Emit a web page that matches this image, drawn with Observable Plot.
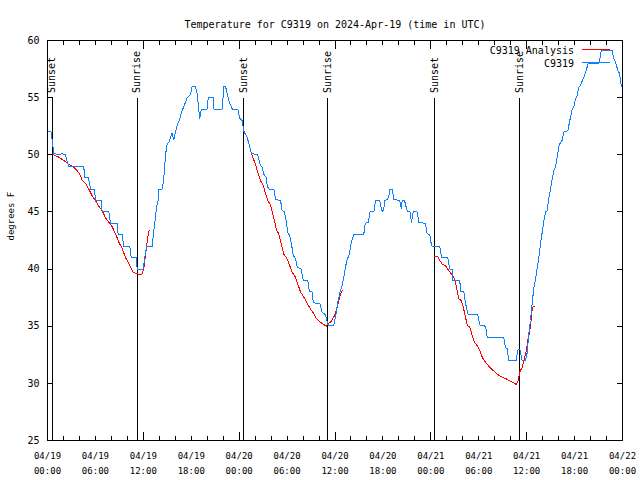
<!DOCTYPE html>
<html><head><meta charset="utf-8">
<script src="https://cdn.jsdelivr.net/npm/d3@7"></script>
<script src="https://cdn.jsdelivr.net/npm/@observablehq/plot@0.6"></script>
<style>
body{margin:0;background:#fff;}
#chart svg{display:block;shape-rendering:crispEdges;}
#chart svg text{shape-rendering:auto;}
</style></head><body><div id="chart"></div>
<script>
const titleText = "Temperature for C9319 on 2024-Apr-19 (time in UTC)";
const yLabel = "degrees F";
const seriesNames = ["C9319 Analysis", "C9319"];
const xTickHours = [0, 6, 12, 18, 24, 30, 36, 42, 48, 54, 60, 66, 72];
const xTickLabels = ["04/19\n00:00","04/19\n06:00","04/19\n12:00","04/19\n18:00","04/20\n00:00","04/20\n06:00","04/20\n12:00","04/20\n18:00","04/21\n00:00","04/21\n06:00","04/21\n12:00","04/21\n18:00","04/22\n00:00"];
const yTicks = [25, 30, 35, 40, 45, 50, 55, 60];
const sunHours = [0.59, 11.23, 24.58, 35.1, 48.5, 59.14];
const sunLabels = ["Sunset", "Sunrise", "Sunset", "Sunrise", "Sunset", "Sunrise"];

// observed (hours since 04/19 00:00 UTC)
const obsHours = [0,0.46,0.63,0.79,1.63,1.75,2.25,2.38,2.67,4.55,4.63,5.1,5.26,5.38,5.89,6.01,6.72,6.85,7.68,7.89,8.73,8.85,9.35,9.55,10.31,10.48,11.11,11.23,11.98,12.18,12.4,13.11,13.31,13.52,13.65,13.86,13.94,14.36,14.56,14.78,14.99,15.19,15.4,15.61,15.81,16.03,16.24,16.44,16.57,16.87,17.07,17.49,17.91,18.12,18.53,18.75,18.95,19.07,19.25,19.37,20.0,20.12,20.75,20.82,21.88,22.08,22.29,22.58,22.83,23.13,23.83,24.08,24.38,24.58,24.92,25.21,25.51,25.63,26.33,26.58,26.88,27.08,27.39,27.51,27.71,28.34,28.55,29.18,29.39,29.68,29.93,30.09,30.34,30.55,30.77,31.05,31.27,31.77,32.02,32.59,32.81,33.15,33.27,33.56,34.1,34.4,34.81,35.02,35.15,35.85,36.06,36.35,36.6,36.9,37.1,37.32,37.53,37.73,37.85,38.07,38.28,38.35,39.6,39.73,39.94,40.19,40.36,40.86,41.07,41.61,41.79,41.95,42.11,42.24,42.54,42.74,42.86,43.16,43.36,44.11,44.29,44.41,44.7,44.92,45.12,45.39,45.58,45.79,46.29,46.49,47.33,47.54,47.87,48.05,48.17,49.12,49.34,50.12,50.37,50.67,50.75,51.63,51.72,52.13,52.34,52.68,53.88,54.13,54.85,55.06,57.14,57.35,57.64,57.69,58.69,58.82,58.94,59.14,59.32,59.44,59.86,60.07,60.27,60.48,60.69,60.89,61.11,61.32,61.52,61.73,61.94,62.15,62.36,62.57,62.77,62.99,63.2,63.4,63.61,63.82,64.02,64.24,64.45,64.65,65.15,65.4,65.7,65.9,66.12,66.33,66.53,66.74,66.99,67.24,67.71,69.0,69.16,69.33,70.71,70.91,71.13,71.41,71.63,71.84,72];
const obsTemps = [52,52,51,50.1,50,50.1,50,49.6,49,49,48,48,47.5,47,47,46,46,45,45,44,44,43,43,42,42,41,41,40,40,41,42,42,43.4,44.5,45.4,46,47,47,47.9,50,51,51.1,51.5,51.9,51.3,52,52.6,52.9,53.2,53.9,54.2,55,55.3,56,56,55.3,53.9,53.2,53.9,54,54,55,55,54,54,56,56,55.1,54.5,54,54,53.2,53,52,51.7,51,50.2,50.1,50,49.2,48.9,48.3,48,47.3,47,47,46.1,46,45.1,45,44,43.2,42.9,42.2,41.2,40.9,40.2,40,39,39,38,38,37.1,37,37,36.2,36,35.4,35.1,35.1,35.8,37.1,37.9,38.6,39.3,40.2,40.9,41.1,41.6,42.4,42.9,43,43,43.8,44.1,44.1,45,45,46,46,45.3,45,45.3,46,46.1,46.4,47,47,46.1,46,45.3,46,46,45.4,45,45,44.1,45,45,44.1,44,43.1,43,42.2,42,42,41,41,40,40,39,39,38,38,37,36,36,35.1,35,34,34,33.1,33,32,32,32.6,33,33,32.4,32,32,32.7,34.4,35.5,37,38.3,39.1,40.1,41,42.2,43.2,44.2,45,45.1,46.2,47,47.9,48.6,48.9,49.8,50.7,51.1,51.25,52,52.1,53,54,54.2,54.9,55.2,55.9,56.1,56.5,56.9,58,58,58.4,59.1,59.1,58.4,58.1,57.4,57.1,56.1,55.8];

// analysis (null separates nights)
const anaHours = [0.59,1.0,1.41,1.84,2.25,2.67,3.29,3.72,4.04,4.35,4.76,5.17,5.6,6.01,6.42,6.85,7.26,7.68,8.1,8.51,8.93,9.35,9.77,10.18,10.73,11.23,11.65,11.86,12.06,12.27,12.48,12.68,12.81,
  12.9,
  24.58,25.0,25.21,25.51,25.76,26.05,26.26,26.67,27.01,27.3,27.59,27.92,28.14,28.46,28.67,28.96,29.26,29.59,29.93,30.22,30.64,31.05,31.34,31.68,32.09,32.52,32.93,33.35,33.68,34.18,34.6,34.9,35.1,35.44,35.85,36.19,36.48,36.78,36.9,
  37.0,
  48.5,48.87,49.12,49.42,49.84,50.12,50.55,50.88,51.09,51.3,51.5,51.8,52.05,52.34,52.55,52.88,53.18,53.47,53.81,54.13,54.43,54.85,55.26,55.69,56.31,56.94,57.56,58.19,58.73,58.94,59.14,59.44,59.64,59.98,60.14,60.39,60.61,60.69,60.82,60.98];
const anaTemps = [50.1,49.9,49.8,49.6,49.4,49.15,48.9,48.6,48.3,47.75,47.5,47,46.4,46,45.5,45.1,44.5,44.1,43.7,43.1,42.35,41.8,41,40.5,39.7,39.6,39.5,39.6,40,41.2,42.35,43.3,43.4,
  null,
  52.1,51.5,51,50.2,49.65,49.2,48.6,47.75,47.3,46.6,46,45.6,45,44.1,43.4,43.1,42.2,41.3,41,40.5,39.7,39.3,38.7,38,37.55,37,36.5,36.1,35.65,35.35,35.15,35,35.2,35.35,35.8,36.4,37.25,38,38.1,
  null,
  41.1,41.1,40.75,40.45,40.3,40,39.6,39.3,38.85,38.1,37.4,37.25,36.7,35.8,35.1,34.9,34.2,33.6,33.3,32.9,32.3,31.85,31.5,31.2,30.8,30.55,30.35,30.1,29.9,30.25,31,31.4,32,32.9,33.75,34.6,35.8,36.5,36.7,36.7];

const mono = "DejaVu Sans Mono";
const RED = "#ff0000", BLUE = "#0a80ff";

const obs = obsHours.map((h, i) => ({h, t: obsTemps[i]}));
const ana = anaHours.map((h, i) => ({h, t: anaTemps[i]}));

function inwardTicks(index, {x, y}, values, {width, height, marginTop, marginRight, marginBottom, marginLeft}) {
  const g = d3.create("svg:g").attr("stroke", "black").attr("fill", "none");
  const top = marginTop + 0.5, bottom = height - marginBottom - 0.5;
  const left = marginLeft + 0.5, right = width - marginRight - 0.5;
  for (const t of yTicks) {
    const py = Math.round(y(t)) + 0.5;
    g.append("path").attr("d", `M${left},${py}h5M${right},${py}h-5`);
  }
  for (const h of d3.range(0, 73, 2)) {
    const px = Math.round(x(h)) + 0.5;
    const len = h % 12 === 0 ? 8 : 4;
    g.append("path").attr("d", `M${px},${bottom}v${-len}M${px},${top}v${len}`);
  }
  return g.node();
}

function legend(index, scales, values, {width, marginTop, marginRight}) {
  const g = d3.create("svg:g");
  const right = width - marginRight;
  const colors = [RED, BLUE];
  seriesNames.forEach((name, i) => {
    const yy = marginTop + 10 + i * 13;
    g.append("text").attr("x", right - 48).attr("y", yy).attr("dy", "0.35em")
      .attr("text-anchor", "end").attr("font-family", mono).attr("font-size", 10)
      .attr("fill", "black").text(name);
    g.append("line").attr("x1", right - 40).attr("x2", right - 12)
      .attr("y1", yy - 0.5).attr("y2", yy - 0.5).attr("stroke", colors[i]);
  });
  return g.node();
}

const chart = Plot.plot({
  width: 640, height: 480,
  marginLeft: 47, marginRight: 18, marginTop: 40, marginBottom: 40,
  style: {background: "white", color: "black", overflow: "visible"},
  x: {domain: [0, 72], axis: null},
  y: {domain: [25, 60], axis: null},
  marks: [
    Plot.ruleX(sunHours, {x: d => d, y1: 25, y2: 54.9, stroke: "black"}),
    Plot.text(sunHours, {x: d => d, y: 55.4, text: (d, i) => sunLabels[i], rotate: -90, textAnchor: "start", fontFamily: mono, fontSize: 10, fill: "black"}),
    Plot.line(ana, {x: "h", y: "t", stroke: RED, strokeWidth: 1}),
    Plot.line(obs, {x: "h", y: "t", stroke: BLUE, strokeWidth: 1}),
    Plot.axisX(xTickHours, {anchor: "bottom", tickSize: 0, tickPadding: 9, tickFormat: d => xTickLabels[xTickHours.indexOf(d)], fontSize: 9, fontFamily: mono, lineHeight: 1.56, label: null}),
    Plot.axisY(yTicks, {anchor: "left", tickSize: 0, tickPadding: 8, fontSize: 10, fontFamily: mono, label: null}),
    Plot.text([yLabel], {frameAnchor: "left", dx: -36, rotate: -90, fontSize: 9, fontFamily: mono, fill: "black"}),
    Plot.text([titleText], {frameAnchor: "top", dy: -20, fontFamily: mono, fontSize: 10, fill: "black"}),
    inwardTicks,
    legend,
    Plot.frame({stroke: "black"})
  ]
});
document.getElementById("chart").append(chart);
</script></body></html>
